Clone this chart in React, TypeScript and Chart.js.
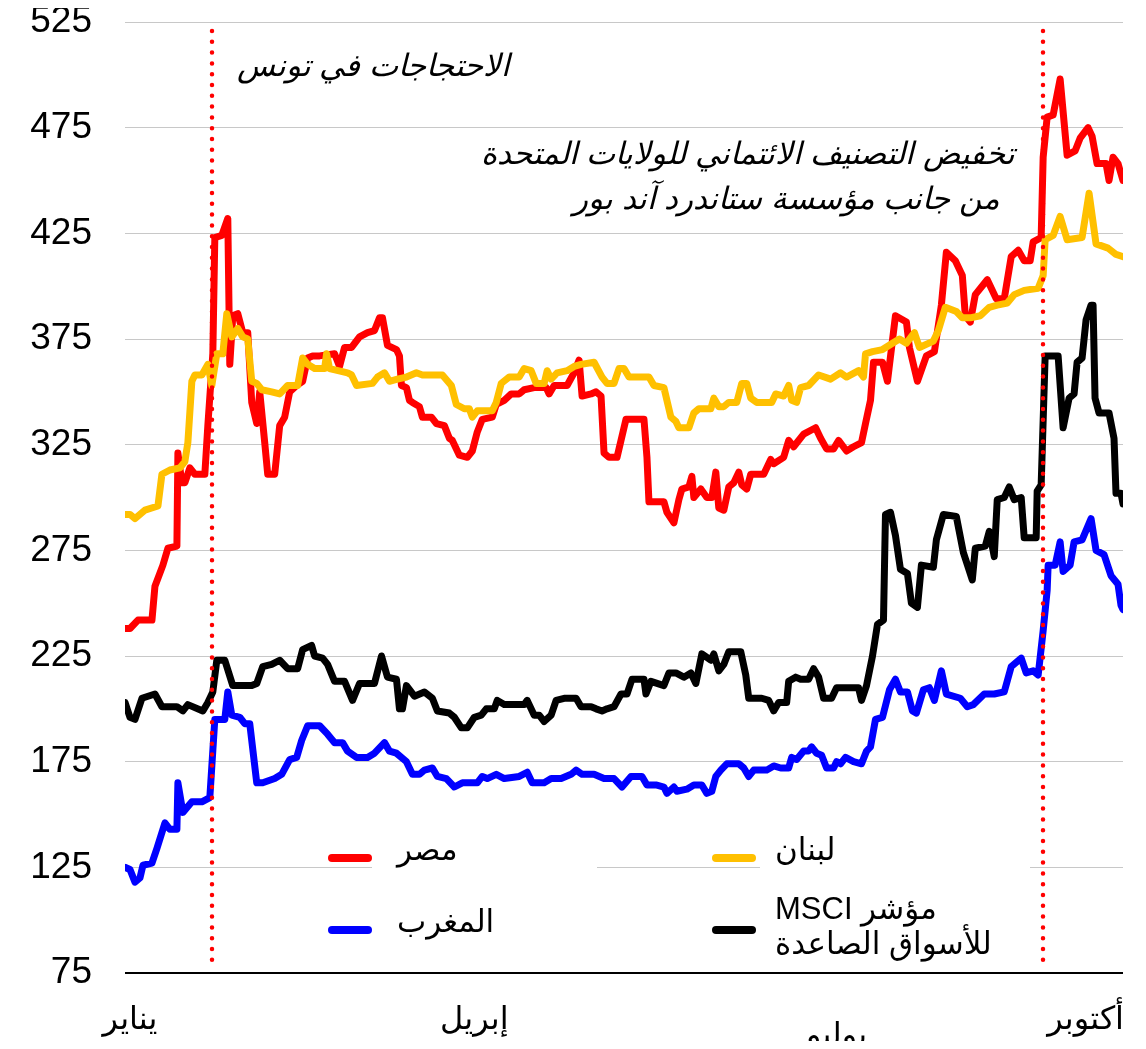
import React, { useEffect, useRef } from 'react';
import { Chart, registerables } from 'chart.js';

Chart.register(...registerables);

// ---------- data ----------
const yTickValues = [75, 125, 175, 225, 275, 325, 375, 425, 475, 525];
const monthLabels = ['يناير', 'إبريل', 'يوليو', 'أكتوبر'];
const monthDays = [1, 70, 142.6, 192.5];
const eventDays = [17.4, 184];
const tunisiaNote = ['الاحتجاجات في تونس'];
const downgradeNote = ['تخفيض التصنيف الائتماني للولايات المتحدة', 'من جانب مؤسسة ستاندرد آند بور'];
const seriesNames = ['لبنان', 'مصر', 'المغرب', 'مؤشر MSCI|للأسواق الصاعدة'];

const egyptDays = [0, 1, 2.6, 5.4, 6, 7.6, 8.6, 10.4, 10.6, 11.4, 12, 13, 14, 16, 16.6, 17.6, 18, 19.4, 20.6, 21, 21.6, 22.6, 23.6, 24.6, 25.4, 26.4, 27, 28, 28.6, 30, 31, 32, 33, 34.4, 35.6, 36.6, 37.6, 39, 42, 43, 44, 45.4, 47, 48.6, 50, 51, 51.6, 52.6, 54.4, 55, 55.4, 56.4, 57, 57.6, 59, 59.6, 61.4, 62.4, 64, 65, 65.6, 67, 68.6, 69.6, 70.6, 71.6, 73.6, 74.4, 76, 77.4, 79, 80, 82, 84.4, 85, 86, 88.6, 90, 91, 91.6, 93.4, 94.4, 95.4, 96, 97, 98.6, 100.4, 104, 104.6, 105, 108, 108.6, 110, 111, 111.6, 113, 113.6, 114, 115.4, 116.6, 117.6, 118.4, 119, 120, 121, 122, 123, 123.6, 124.6, 125.4, 128, 129.4, 130, 132, 133, 134, 136, 138.4, 139.4, 140.6, 142, 143, 144.6, 146, 147.6, 148.4, 149.4, 150, 151.8, 152.8, 154.4, 156.6, 157.2, 158.8, 160.6, 162.2, 163.6, 164.6, 166.4, 167.8, 168.4, 169.4, 170.4, 172.8, 174.6, 176.2, 177.6, 179, 180.2, 181.4, 182, 183.6, 184, 184.8, 186, 187.4, 188.8, 190.4, 191.4, 193, 193.8, 194.8, 196.6, 197.2, 198, 199, 200];
const egyptValues = [238, 238, 242, 242, 258, 268, 276, 277, 321, 307, 307, 314, 311, 311, 334, 368, 423, 424, 432, 363, 386, 387, 378, 378, 345, 335, 350, 326, 311, 311, 334, 338, 350, 353, 355, 366, 367, 367, 368, 362, 371, 371, 376, 378, 379, 385, 385, 372, 370, 367, 353, 352, 346, 345, 343, 338, 338, 335, 334, 328, 327, 320, 319, 322, 331, 337, 338, 344, 346, 349, 349, 351, 352, 352, 349, 353, 353, 359, 365, 348, 349, 350, 348, 321, 319, 319, 337, 337, 319, 298, 298, 293, 288, 299, 304, 305, 310, 300, 304, 300, 300, 312, 295, 294, 305, 307, 312, 306, 304, 311, 311, 318, 316, 319, 327, 324, 330, 333, 328, 323, 323, 327, 322, 324, 326, 335, 346, 364, 364, 355, 386, 383, 371, 355, 367, 369, 391, 416, 412, 405, 386, 383, 396, 403, 394, 394, 414, 417, 412, 412, 421, 423, 461, 480, 481, 498, 462, 464, 470, 475, 471, 458, 458, 450, 461, 458, 450];

const lebanonDays = [0, 1, 2, 4, 6.6, 7.4, 9, 11, 12, 12.6, 13.4, 14, 15.4, 16.6, 17.4, 18.4, 19.6, 20.4, 21.4, 22.6, 23.6, 24.6, 25.4, 26.4, 27.4, 29.4, 31, 32.6, 34.6, 35.6, 36.6, 38, 40, 40.4, 41, 44.6, 45.4, 46.4, 49.6, 50.6, 52, 53, 54.6, 56.4, 58.4, 59.6, 63.6, 65.4, 66.4, 68, 69, 69.6, 70.6, 73.6, 74.4, 75.4, 77, 79, 80, 81.4, 82.4, 84, 84.6, 85.4, 86.6, 88.6, 90, 91.4, 94, 95.6, 96.6, 98, 99, 100, 101, 103.6, 105, 106, 108, 109.4, 110.4, 111, 113, 114, 115, 117.4, 118, 119, 120, 121, 122.6, 123.6, 124.6, 125.4, 126.6, 129.6, 130.4, 132, 133, 133.6, 134.6, 135.4, 137, 139, 141.4, 143.4, 144.6, 147, 148, 148.4, 149.8, 151.8, 153.8, 155.2, 156.6, 158.2, 159.2, 162, 163, 164.4, 166.6, 167.8, 169.4, 171.4, 173.2, 174.8, 176.8, 178.2, 180.2, 183, 184, 184.4, 186, 187.4, 188.8, 191.8, 193.2, 194.6, 197, 198.6, 200];
const lebanonValues = [292, 292, 290, 294, 296, 311, 313, 314, 317, 326, 355, 358, 358, 363, 353, 368, 368, 387, 376, 380, 376, 375, 355, 354, 351, 350, 349, 353, 353, 366, 363, 361, 361, 368, 361, 359, 358, 353, 354, 357, 359, 355, 356, 357, 359, 358, 358, 353, 344, 342, 342, 338, 341, 341, 345, 354, 357, 357, 361, 360, 354, 354, 360, 356, 359, 360, 362, 363, 364, 357, 354, 354, 361, 361, 357, 357, 357, 353, 352, 338, 336, 333, 333, 340, 342, 342, 347, 343, 343, 345, 345, 354, 354, 347, 345, 345, 349, 348, 353, 346, 345, 352, 353, 358, 356, 359, 357, 360, 357, 368, 369, 370, 373, 375, 373, 378, 371, 374, 379, 390, 388, 385, 385, 386, 390, 391, 392, 396, 398, 399, 405, 422, 424, 433, 422, 423, 444, 420, 418, 415, 414];

const moroccoDays = [0, 1, 2, 3, 3.6, 5.4, 6.4, 8, 9, 10.4, 10.6, 11.6, 13.4, 15.4, 17, 18, 20, 20.6, 21.4, 23, 24, 25, 26.4, 27.6, 30, 31.4, 33, 34.4, 35.4, 36.6, 39, 40.6, 42, 43.6, 44.6, 46.4, 48.6, 50, 52, 53, 54.4, 56.4, 57.6, 59, 60, 61.6, 62.6, 64.4, 66, 67.6, 70.6, 71.6, 72.6, 74.4, 76, 79, 80.6, 81.6, 84, 85.4, 87.4, 89.4, 90.4, 91.6, 94, 96, 98, 99.6, 101.4, 103.6, 104.6, 106.4, 108, 108.6, 110, 110.6, 112.6, 114, 115.6, 116.6, 117.6, 118.4, 119.4, 120.6, 123, 124, 125, 126, 128.6, 130, 131.4, 133, 133.6, 134.6, 136, 137, 137.6, 138.6, 139.6, 140.6, 142, 142.6, 143.4, 144.4, 146, 147.6, 148.6, 149.4, 150.4, 151.8, 153.2, 154.4, 155.4, 156.8, 157.8, 158.6, 160, 161.2, 162.2, 163.6, 164.6, 167.4, 168.8, 170, 172.2, 174.2, 176.2, 177.6, 179.6, 180.6, 182, 183, 184, 184.8, 185, 186.4, 187.4, 188, 189.4, 190.2, 191.8, 193.6, 194.6, 196.2, 197.6, 199, 199.6, 200];
const moroccoValues = [125, 124, 118, 120, 126, 127, 134, 146, 143, 143, 165, 151, 156, 156, 158, 195, 195, 208, 197, 196, 193, 193, 165, 165, 167, 169, 176, 177, 185, 192, 192, 188, 184, 184, 180, 177, 177, 179, 184, 180, 179, 175, 169, 169, 171, 172, 168, 167, 163, 165, 165, 168, 167, 169, 167, 168, 170, 165, 165, 167, 167, 169, 171, 169, 169, 167, 167, 163, 168, 168, 164, 164, 163, 160, 163, 161, 162, 164, 164, 160, 161, 168, 171, 174, 174, 172, 168, 171, 171, 173, 172, 172, 177, 176, 180, 180, 182, 179, 178, 172, 172, 175, 174, 177, 175, 174, 180, 182, 195, 196, 209, 214, 208, 208, 199, 198, 209, 210, 204, 218, 207, 205, 201, 202, 207, 207, 208, 220, 224, 217, 218, 216, 237, 256, 268, 268, 279, 265, 268, 279, 280, 290, 275, 273, 263, 259, 249, 247];

const msciDays = [0, 1, 2, 3.4, 6, 7.4, 10.4, 11.6, 12.6, 15.6, 16.6, 17.6, 18.4, 20, 21.6, 25.4, 26.4, 27.6, 29.4, 31, 32.6, 34.6, 35.6, 37.4, 38, 39.6, 40.6, 42, 44, 45.6, 47, 49, 50, 51.4, 52.6, 54.4, 55, 55.6, 56.4, 58, 60, 61.6, 62.6, 65, 66, 67.4, 68.6, 70, 71.4, 72.4, 74, 74.6, 76, 80, 80.6, 82, 83, 84, 85.4, 86.4, 88, 90.4, 91.4, 93.4, 94.4, 95.6, 96.6, 98, 99.4, 100.6, 101.6, 104, 104.4, 105.4, 108, 109, 110.4, 112, 113.4, 114.4, 115.6, 117.4, 118, 119, 120, 121, 123.4, 124.4, 125, 127.6, 129, 130, 131, 132.6, 133, 134.4, 135.4, 137, 138, 139, 140, 141.6, 142.6, 147, 147.6, 148.6, 149.8, 150.8, 152, 152.4, 153.4, 154.4, 155.4, 156.8, 157.6, 158.8, 159.6, 162, 162.6, 164, 166.6, 168, 169.8, 170.4, 172.4, 173.2, 174.2, 174.8, 176.2, 177.2, 178.2, 179.6, 180.2, 182.6, 182.8, 183.6, 184.4, 187, 188, 189.2, 190.2, 190.8, 191.8, 192.6, 193.6, 194, 194.4, 195.2, 197.2, 198.2, 198.6, 199.6, 200];
const msciValues = [203, 196, 195, 205, 207, 201, 201, 199, 202, 199, 203, 208, 223, 223, 211, 211, 212, 220, 221, 223, 219, 219, 228, 230, 225, 224, 221, 213, 213, 204, 212, 212, 212, 225, 215, 214, 200, 200, 211, 206, 208, 205, 199, 198, 196, 191, 191, 196, 197, 200, 200, 204, 202, 202, 204, 197, 197, 194, 197, 204, 205, 205, 201, 201, 200, 199, 200, 201, 207, 207, 214, 214, 207, 213, 211, 217, 217, 215, 217, 212, 226, 223, 226, 218, 221, 227, 227, 216, 205, 205, 204, 199, 203, 203, 213, 215, 214, 214, 219, 215, 205, 205, 210, 210, 204, 211, 225, 240, 242, 292, 293, 282, 266, 264, 250, 248, 268, 267, 280, 292, 291, 274, 261, 276, 277, 284, 272, 299, 300, 305, 299, 300, 281, 281, 303, 306, 367, 367, 333, 347, 349, 364, 366, 384, 391, 391, 347, 340, 340, 328, 302, 302, 297];

const seriesColors = ['#FFC000', '#FF0000', '#0000FF', '#000000'];

// ---------- drawing ----------
const FONT = '"Liberation Sans", Arial, "DejaVu Sans", sans-serif';

const pts = (days: number[], vals: number[]) => days.map((d, i) => ({ x: d, y: vals[i] }));

const overlayPlugin = {
  id: 'overlay',
  beforeDatasetsDraw(chart: any) {
    const { ctx, chartArea: a } = chart;
    ctx.save();
    ctx.fillStyle = '#ffffff';
    ctx.fillRect(a.left + 247, a.bottom - 143, 225, 135);
    ctx.fillRect(a.left + 635, a.bottom - 143, 270, 135);
    ctx.restore();
  },
  afterDraw(chart: any) {
    const { ctx, chartArea: a, scales } = chart;
    const xs = scales.x;
    ctx.save();

    // event lines
    ctx.strokeStyle = '#FF0000';
    ctx.lineWidth = 4.5;
    ctx.lineCap = 'round';
    ctx.setLineDash([0, 10.8]);
    eventDays.forEach((d) => {
      const x = Math.round(xs.getPixelForValue(d));
      ctx.beginPath();
      ctx.moveTo(x, a.top + 9);
      ctx.lineTo(x, a.bottom - 3);
      ctx.stroke();
    });
    ctx.setLineDash([]);

    // annotations
    ctx.direction = 'rtl';
    ctx.fillStyle = '#000';
    ctx.textBaseline = 'middle';
    ctx.textAlign = 'right';
    ctx.font = `italic 31px ${FONT}`;
    ctx.fillText(tunisiaNote[0], a.left + 385, a.top + 45);
    ctx.fillText(downgradeNote[0], a.left + 890, a.top + 133);
    ctx.fillText(downgradeNote[1], a.left + 875, a.top + 178);

    // month labels
    ctx.font = `32px ${FONT}`;
    ctx.textAlign = 'center';
    monthLabels.forEach((m, i) => {
      const x = xs.getPixelForValue(monthDays[i]);
      const y = a.bottom + (i === 2 ? 63 : 47);
      ctx.fillText(m, x, y);
    });

    // legend
    const cols = [a.left + 587, a.left + 203];
    const rows = [a.bottom - 115, a.bottom - 43];
    const layout = [
      { col: 0, row: 0 },
      { col: 1, row: 0 },
      { col: 1, row: 1 },
      { col: 0, row: 1 },
    ];
    ctx.font = `31px ${FONT}`;
    seriesNames.forEach((name, i) => {
      const { col, row } = layout[i];
      const x0 = cols[col];
      const y0 = rows[row];
      ctx.lineWidth = 8;
      ctx.lineCap = 'round';
      ctx.strokeStyle = seriesColors[i];
      ctx.beginPath();
      ctx.moveTo(x0 + 4, y0);
      ctx.lineTo(x0 + 40, y0);
      ctx.stroke();
      ctx.fillStyle = '#000';
      ctx.textAlign = 'left';
      const lines = name.split('|');
      const tx = x0 + (col === 0 ? 63 : 69);
      if (lines.length === 1) {
        ctx.fillText(lines[0], tx, y0 - 7);
      } else {
        ctx.fillText(lines[0], tx, y0 - 20);
        ctx.fillText(lines[1], tx, y0 + 15);
      }
    });
    ctx.restore();
  },
};

export default function App() {
  const ref = useRef<HTMLCanvasElement | null>(null);
  useEffect(() => {
    if (!ref.current) return;
    const chart = new Chart(ref.current, {
      type: 'line',
      data: {
        datasets: [
          { label: seriesNames[0], data: pts(lebanonDays, lebanonValues), borderColor: seriesColors[0] },
          { label: seriesNames[1], data: pts(egyptDays, egyptValues), borderColor: seriesColors[1] },
          { label: seriesNames[2], data: pts(moroccoDays, moroccoValues), borderColor: seriesColors[2] },
          { label: seriesNames[3], data: pts(msciDays, msciValues), borderColor: seriesColors[3] },
        ].map((d) => ({
          ...d,
          borderWidth: 7,
          pointRadius: 0,
          tension: 0,
          fill: false,
          borderJoinStyle: 'round' as const,
          borderCapStyle: 'round' as const,
        })),
      },
      options: {
        animation: false,
        responsive: false,
        devicePixelRatio: 1,
        layout: { padding: { top: 14, right: 15, bottom: 68, left: 0 } },
        plugins: { legend: { display: false }, tooltip: { enabled: false } },
        scales: {
          x: { type: 'linear', min: 0, max: 200, display: false },
          y: {
            min: 75,
            max: 525,
            afterFit: (s: any) => {
              s.width = 117;
              s.paddingTop = 0;
              s.paddingBottom = 0;
            },
            afterBuildTicks: (s: any) => {
              s.ticks = yTickValues.map((v) => ({ value: v }));
            },
            border: { display: false },
            grid: {
              drawTicks: false,
              color: (c: any) => (c.tick && c.tick.value === 75 ? '#000000' : '#c8c8c8'),
              lineWidth: (c: any) => (c.tick && c.tick.value === 75 ? 2 : 1),
            },
            ticks: {
              padding: 33,
              color: '#000',
              font: { family: FONT, size: 37, lineHeight: 1 },
            },
          },
        },
      },
      plugins: [overlayPlugin],
    } as any);
    return () => chart.destroy();
  }, []);
  return (
    <div style={{ width: 1130, height: 1033 }}>
      <canvas ref={ref} width={1130} height={1033} style={{ display: 'block' }} />
    </div>
  );
}
